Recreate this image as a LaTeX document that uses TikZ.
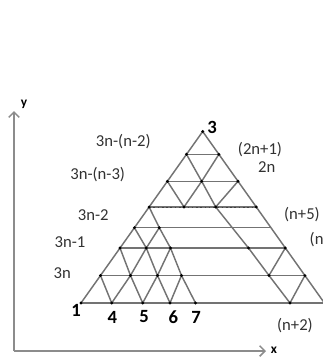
\documentclass[tikz,border=0pt]{standalone}
\usepackage{fontspec}
\setmainfont{Carlito}
\usetikzlibrary{arrows.meta}
\definecolor{gridgray}{RGB}{115,115,115}
\definecolor{axisgray}{RGB}{140,140,140}
\definecolor{labelgray}{RGB}{50,50,50}

\begin{document}
\begin{tikzpicture}[x=0.75pt, y=-0.75pt,
  edge/.style={draw=gridgray, line width=1.1pt},
  ticks/.style={draw=black!75, line width=0.6pt, dash pattern=on 1.2pt off 2pt},
  axis/.style={draw=axisgray, line width=1.1pt, -{Straight Barb[length=4pt,width=8pt]}},
  dot/.style={circle, fill=black, inner sep=0pt, minimum size=2.4pt},
  lbl/.style={text=labelgray, font=\fontsize{12.5}{14}\selectfont},
  num/.style={text=black, font=\fontsize{14}{16}\selectfont\bfseries},
  axlbl/.style={text=black, font=\fontsize{10}{12}\selectfont\bfseries}
]
  \useasboundingbox (0,0) rectangle (323,358);
  \clip (0,0) rectangle (323,358);

  % axes
  \coordinate (O) at (14,351);
  \coordinate (ytip) at (14,111);
  \coordinate (xtip) at (266,351);
  \draw[axis] (O) -- (ytip);
  \draw[axis] (O) -- (xtip);
  \node[axlbl] (ylab) at (24,104) {y};
  \node[axlbl] (xlab) at (274,350.5) {x};

  % points of the grid
  \coordinate (A) at (202.7,131.5);
  \coordinate (l1) at (186.5,154.3); \coordinate (r1) at (218.9,154.3);
  \coordinate (l2) at (167.4,181.3); \coordinate (m2) at (201.7,181.3); \coordinate (r2) at (238.0,181.3);
  \coordinate (l3) at (149.1,207.0); \coordinate (p3) at (184.0,207.0); \coordinate (q3) at (215.7,207.0); \coordinate (r3) at (256.3,207.0);
  \coordinate (l4) at (134.4,227.7); \coordinate (a4) at (159.3,227.7); \coordinate (r4) at (271.0,227.7);
  \coordinate (l5) at (120.0,248.0); \coordinate (b5) at (146.3,248.0); \coordinate (c5) at (170.5,248.0);
  \coordinate (d5) at (248.5,248.0); \coordinate (r5) at (285.3,248.0);
  \coordinate (l6) at (100.5,275.5); \coordinate (e6) at (130.5,275.5); \coordinate (f6) at (157.5,275.5);
  \coordinate (g6) at (181.5,275.5); \coordinate (h6) at (269.0,275.5); \coordinate (r6) at (304.9,275.5);
  \coordinate (l7) at (81.0,303.0); \coordinate (n4) at (111.7,303.0); \coordinate (n5) at (142.7,303.0);
  \coordinate (n6) at (170.0,303.0); \coordinate (n7) at (195.5,303.0); \coordinate (k7) at (290.0,303.0);
  \coordinate (r7) at (324.4,303.0);

  % outline and rows
  \draw[edge] (l7) -- (A) -- (r7);
  \foreach \i in {1,2,3,4,5,6,7}
    \draw[edge] (l\i) -- (r\i);
  \draw[ticks] (l3) -- (r3);

  % top part
  \draw[edge] (l1) -- (m2) -- (q3) -- (d5) -- (h6) -- (k7);
  \draw[edge] (l2) -- (p3);
  \draw[edge] (r1) -- (m2) -- (p3);
  \draw[edge] (r2) -- (q3);

  % lower left part
  \draw[edge] (l3) -- (a4) -- (c5) -- (g6) -- (n7);
  \draw[edge] (l4) -- (b5) -- (f6) -- (n6);
  \draw[edge] (l5) -- (e6) -- (n5);
  \draw[edge] (l6) -- (n4);
  \draw[edge] (a4) -- (b5) -- (e6) -- (n4);
  \draw[edge] (c5) -- (f6) -- (n5);
  \draw[edge] (g6) -- (n6);

  % lower right part
  \draw[edge] (r5) -- (h6);
  \draw[edge] (r6) -- (k7);

  % dots
  \foreach \p in {A,l1,r1,l2,m2,r2,l3,p3,q3,r3,l4,a4,l5,b5,c5,d5,r5,
                  l6,e6,f6,g6,h6,r6,l7,n4,n5,n6,n7,k7}
    \node[dot] at (\p) {};

  % labels
  \node[num] (t3) at (212,127.5) {3};
  \node[num] (t1) at (76,310.5) {1};
  \node[num] (t4) at (112.3,317) {4};
  \node[num] (t5) at (144,317) {5};
  \node[num] (t6) at (173.3,317) {6};
  \node[num] (t7) at (196,317) {7};

  \node[lbl] (s1) at (123.3,141.7) {3n-(n-2)};
  \node[lbl] (s2) at (97.7,174.3) {3n-(n-3)};
  \node[lbl] (s3) at (93.3,215) {3n-2};
  \node[lbl] (s4) at (70,241.7) {3n-1};
  \node[lbl] (s5) at (62.3,272.7) {3n};
  \node[lbl] (s6) at (260,150) {(2n+1)};
  \node[lbl] (s7) at (266.7,167.3) {2n};
  \node[lbl] (s8) at (302,215) {(n+5)};
  \node[lbl, anchor=west] (s9) at (305,240) {(n};
  \node[lbl] (s10) at (295,326) {(n+2)};
\end{tikzpicture}
\end{document}
